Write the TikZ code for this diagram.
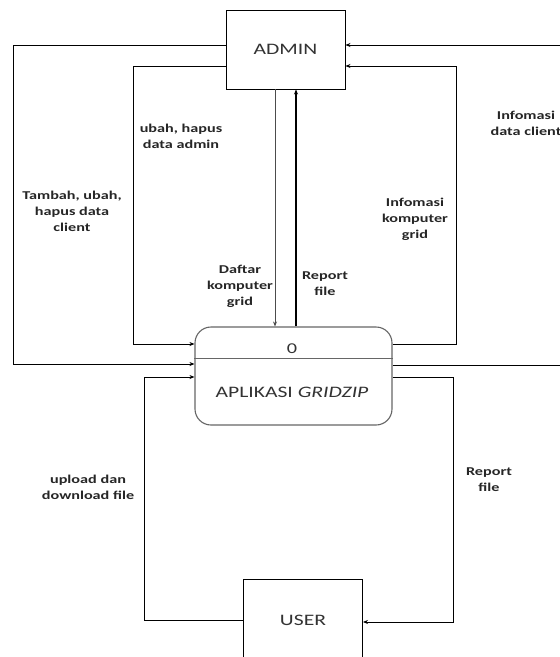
\documentclass[tikz,border=0pt]{standalone}
\usepackage{fontspec}
\setmainfont{Carlito}[FakeStretch=1.35,Numbers=Lining]
\usetikzlibrary{arrows.meta,calc}
\begin{document}
\begin{tikzpicture}[x=1pt,y=-1pt,
  ent/.style={draw, line width=0.9pt, minimum width=119pt, minimum height=79pt, inner sep=0pt, font=\fontsize{16}{18}\selectfont, text=black!80},
  procbox/.style={draw=black!60, line width=1.1pt, rounded corners=16pt, minimum width=197pt, minimum height=98pt, inner sep=0pt},
  flow/.style={line width=0.9pt, -{Stealth[length=5pt,width=4pt]}},
  lbl/.style={font=\fontsize{12}{16}\selectfont\bfseries, align=center, text=black!85, inner sep=0pt}]
\clip (0,0) rectangle (560,657);
\fill[white] (0,0) rectangle (560,657);
% entities
\node[ent] (admin) at (285.5,49.5) {ADMIN};
\node[ent, minimum height=82pt] (user) at (303,620) {USER};
\node[procbox] (proc) at (293.5,376) {};
\draw[draw=black!60, line width=1pt] ([yshift=18pt]proc.west) -- ([yshift=18pt]proc.east);
\node[font=\fontsize{15}{17}\selectfont, text=black!80] (pnum) at (292,349) {0};
\node[font=\fontsize{16}{18}\selectfont, text=black!80] (pname) at (292,392) {APLIKASI \textit{GRIDZIP}};
% left loops
\draw[flow] ([yshift=4.5pt]admin.west) -| (13,364) -- ([yshift=12pt]proc.west);
\draw[flow] ([yshift=-16.5pt]admin.west) -| (133,344) -- ([yshift=32pt]proc.west);
\draw[flow] (user.west) -| (144,377) -- ([yshift=-1pt]proc.west);
% right loops
\draw[flow] ([yshift=11pt]proc.east) -| (575,45) -- ([yshift=4.5pt]admin.east);
\draw[flow] ([yshift=32pt]proc.east) -| (456,66) -- ([yshift=-16.5pt]admin.east);
\draw[flow] ([yshift=-1pt]proc.east) -| (453,622) -- ([yshift=-2pt]user.east);
% verticals
\coordinate (d1) at ([xshift=-10.5pt]admin.south);
\coordinate (r1) at ([xshift=10.5pt]admin.south);
\draw[flow, draw=black!70, line width=0.7pt] (d1) -- (d1 |- proc.north);
\draw[flow, line width=1.4pt] (r1 |- proc.north) -- (r1);
% labels
\node[lbl] (l1) at (181,136) {ubah, hapus\\data admin};
\node[lbl] (l2) at (72,211) {Tambah, ubah,\\hapus data\\client};
\node[lbl] (l3) at (240,286) {Daftar\\komputer\\grid};
\node[lbl] (l4) at (325,284) {Report\\file};
\node[lbl] (l5) at (415,219) {Infomasi\\komputer\\grid};
\node[lbl] (l6) at (526,123) {Infomasi\\data client};
\node[lbl] (l7) at (88,487) {upload dan\\download file};
\node[lbl] (l8) at (489,480) {Report\\file};
\end{tikzpicture}
\end{document}
